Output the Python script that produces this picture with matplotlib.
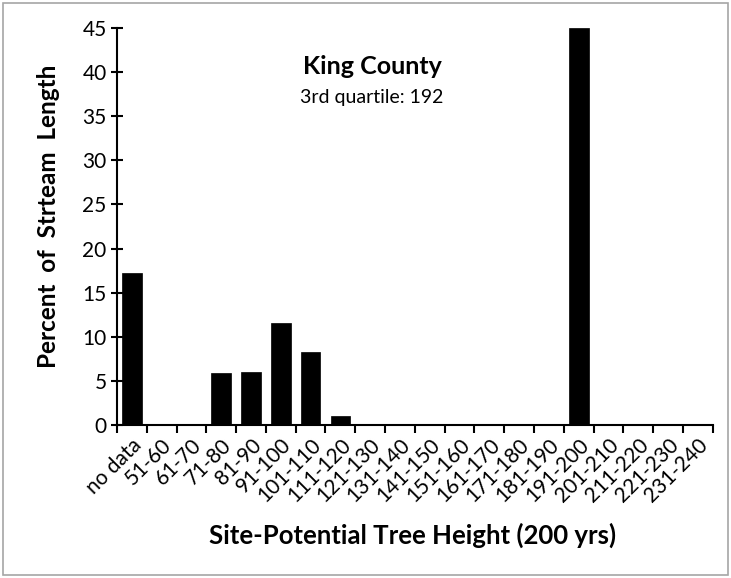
import matplotlib.pyplot as plt
import numpy as np
from matplotlib.patches import Rectangle

categories = ['no data', '51-60', '61-70', '71-80', '81-90', '91-100', '101-110',
              '111-120', '121-130', '131-140', '141-150', '151-160', '161-170',
              '171-180', '181-190', '191-200', '201-210', '211-220', '221-230', '231-240']
percent = [17.2, 0, 0, 5.85, 6.05, 11.55, 8.25, 1.0, 0, 0, 0, 0.15, 0, 0, 0,
           45.0, 0, 0, 0, 0]

plt.rcParams['font.family'] = ['Lato', 'DejaVu Sans']

fig = plt.figure(figsize=(7.31, 5.78), dpi=100)
fig.patches.append(Rectangle((0.004, 0.005), 0.992, 0.99, transform=fig.transFigure,
                             fill=False, edgecolor='#a6a6a6', linewidth=1.2))
ax = fig.add_axes([0.160, 0.2647, 0.815, 0.687])

x = np.arange(len(categories))
ax.bar(x, percent, width=0.66, color='black', edgecolor='black', linewidth=0.5, zorder=2)

ax.set_xlim(-0.5, len(categories) - 0.5)
ax.set_ylim(0, 45)
ax.set_yticks(np.arange(0, 46, 5))
ax.tick_params(axis='y', direction='inout', length=9, width=1.5, labelsize=15, pad=3)

ax.set_xticks(x)
ax.set_xticklabels(categories, rotation=45, ha='right', rotation_mode='anchor', fontsize=15)
ax.tick_params(axis='x', length=0, pad=7)
ax.set_xticks(np.arange(-0.5, len(categories)), minor=True)
ax.tick_params(axis='x', which='minor', direction='out', length=6, width=1.5)

for s in ['top', 'right']:
    ax.spines[s].set_visible(False)
for s in ['left', 'bottom']:
    ax.spines[s].set_linewidth(1.5)

fig.text(0.0657, 0.626, 'Percent  of  Strteam  Length', rotation=90, ha='center', va='center',
         fontsize=17.5, fontweight='bold')
fig.text(0.565, 0.0744, 'Site-Potential Tree Height (200 yrs)', ha='center', va='center',
         fontsize=18.5, fontweight='bold')

ax.text(0.428, 0.903, 'King County', transform=ax.transAxes, ha='center', va='center',
        fontsize=18, fontweight='bold')
ax.text(0.428, 0.826, '3rd quartile: 192', transform=ax.transAxes, ha='center', va='center',
        fontsize=14)

fig.savefig('out.png', dpi=100)
